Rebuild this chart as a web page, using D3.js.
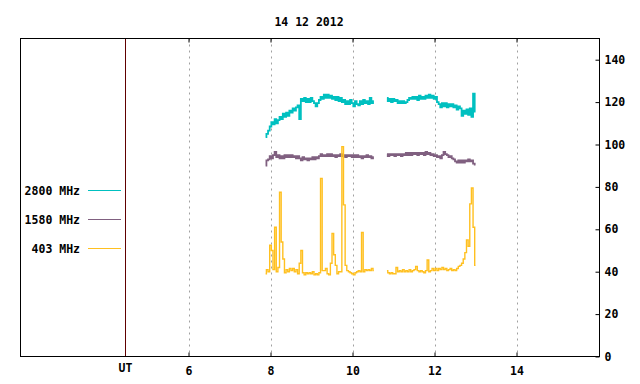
<!DOCTYPE html>
<html><head><meta charset="utf-8">
<script src="https://cdn.jsdelivr.net/npm/d3@7"></script>
<style>
body{margin:0;background:#fff;}
text{font-family:"DejaVu Sans Mono","Liberation Mono",monospace;font-weight:bold;font-size:11.5px;fill:#000;}
</style></head>
<body>
<svg id="chart" width="640" height="384"></svg>
<script>
const title = "14 12 2012";
const xTicks = [6, 8, 10, 12, 14];
const yTicks = [0, 20, 40, 60, 80, 100, 120, 140];
const utTime = 4.46;
const seriesNames = ["2800 MHz", "1580 MHz", "403 MHz"];
const seriesColors = ["#00c0c0", "#806080", "#ffc020"];
const step = 0.04;
const seg1Start = 7.88;
const seg2Start = 10.84;

const s2800a = [103.5,105,106.5,108.5,110.5,109.5,112,110,111.5,113,112,114.5,113,115,113.5,116,115,117,116,117.5,118.5,112,121.5,120.5,122,120,121.5,120,122,120.5,119.5,118,119.5,121,122.5,121.5,123.5,122,123.5,122,123,121.5,122.5,121,122.5,120.5,122,120,121,119,120.5,119,121,119.5,118,120.5,119,118.5,120.5,119,121,119.5,120.5,119,122,119.5,120.5];
const s2800b = [122,120.5,121.5,120,121.5,120.5,121,119.5,120.5,119.5,120.5,119.5,120,121,122,121.5,122.5,121.5,122.5,121,123,121.5,122.5,121.5,123,122,123.5,122,123,121.5,122.5,120,119,117.5,119.5,118,119.5,117.5,119,118,119,117.5,118.5,116.5,118,117,113.5,116,114.5,116.5,114,117,113,124,115.5];

const s1580a = [90,92.5,93,94.5,93.5,95,96.5,94,95,93.5,94.5,93.5,95,94,95,94,95,94,94.5,93.5,94.5,93.5,92.5,94,93,93.5,92.5,93.5,93,94,93,94,93.5,94.5,95.5,94.5,95,94.5,95.5,94.5,95.5,94.5,95,94,95,94.5,95.5,94.5,95,94,95,94.5,95,94,95,94,95,94,94.5,93.5,94.5,94,95,94,94.5,93.5,94];
const s1580b = [95.5,94.5,95.5,95,95.5,94.5,95.5,95,95.5,94.5,95.5,95,96,95,96,95,96,95.5,96,95,96,95.5,96,95,96.5,95.5,96,95,95.5,94.5,95,94,94.5,93.5,95,96.5,95.5,95,94,94.5,93.5,93,92,91.5,92.5,91.5,92.5,91.5,92.5,92,93,92,92.5,91,90.5];

const s403a = [39,41,40,52.5,50,41,61,40,42,77.5,54,46,39.5,41,40,41.5,40.5,41.5,40,41,39,44,50,39.5,38.5,39.5,39,39.5,39,40,38.5,39,38.5,39.5,84,40.5,40.5,41.5,39,38.5,44,58,48,43,39,40,40,99,71.5,43,40.5,40,39.5,39,38.5,39.5,40,40.5,40,58.5,40,41,40.5,41,40.5,41.5,40.5];
const s403b = [40.5,39.5,39,39.5,39,39,42,40,40.5,40,41,40,40.5,40,41,40,40.5,41,42.5,40.5,40,40.5,40,39.5,40.5,45.5,40,40.5,41.5,40.5,41.5,40.5,41.5,41,42,41,41.5,40.5,41,41.5,40.5,41,40.5,41.5,42.5,43,44,46,49,55,52,72,79.5,61,43];

const svg = d3.select("#chart");
const L = 20.5, R = 599.5, T = 38.5, B = 356.5;
const x = d3.scaleLinear().domain([1.902, 16.024]).range([L, R]);
const y = d3.scaleLinear().domain([0, 150]).range([B, T]);

svg.append("text").attr("x", 309).attr("y", 26).attr("text-anchor", "middle").text(title);

// grid
svg.append("g").selectAll("line").data(xTicks).join("line")
  .attr("x1", d => Math.round(x(d)) + 0.5).attr("x2", d => Math.round(x(d)) + 0.5)
  .attr("y1", T).attr("y2", B)
  .attr("stroke", "#a0a0a0").attr("stroke-dasharray", "2,4");

// UT line
svg.append("line").attr("x1", Math.round(x(utTime)) + 0.5).attr("x2", Math.round(x(utTime)) + 0.5)
  .attr("y1", T).attr("y2", B).attr("stroke", "#600000");

// frame
svg.append("rect").attr("x", L).attr("y", T).attr("width", R - L).attr("height", B - T)
  .attr("fill", "none").attr("stroke", "#000");

// bottom axis
const xa = svg.append("g").attr("transform", `translate(0,${B})`)
  .call(d3.axisBottom(x).tickValues(xTicks).tickSizeInner(-4).tickSizeOuter(0).tickPadding(10).tickFormat(d3.format("d")));
xa.select(".domain").remove();
xa.selectAll("text").attr("font-family", null).attr("font-size", null);
// top ticks
const xt = svg.append("g").attr("transform", `translate(0,${T})`)
  .call(d3.axisTop(x).tickValues(xTicks).tickSizeInner(-4).tickSizeOuter(0).tickFormat(""));
xt.select(".domain").remove();

svg.append("text").attr("x", Math.round(x(utTime)) + 0.5).attr("y", 372).attr("text-anchor", "middle").text("UT");

// right axis
const ya = svg.append("g").attr("transform", `translate(${R},0)`)
  .call(d3.axisRight(y).tickValues(yTicks).tickSizeInner(-4).tickSizeOuter(0).tickPadding(5).tickFormat(d3.format("d")));
ya.select(".domain").remove();
ya.selectAll("text").attr("font-family", null).attr("font-size", null);
ya.selectAll("line").attr("stroke", "#000");

// series
const seriesData = [
  [s2800a, s2800b],
  [s1580a, s1580b],
  [s403a, s403b]
];
const starts = [seg1Start, seg2Start];
const line = d3.line().x(d => x(d[0])).y(d => y(d[1])).curve(d3.curveStep);
seriesData.forEach((segs, k) => {
  segs.forEach((vals, s) => {
    const pts = vals.map((v, i) => [starts[s] + i * step, v]);
    svg.append("path").datum(pts).attr("d", line)
      .attr("fill", "none").attr("stroke", seriesColors[k]).attr("stroke-width", k === 2 ? 1.4 : 1.8);
  });
});

// legend
const legY = [190.5, 219.5, 248.5];
seriesNames.forEach((n, k) => {
  svg.append("text").attr("x", 80).attr("y", legY[k] + 4).attr("text-anchor", "end").text(n);
  svg.append("line").attr("x1", 88).attr("x2", 121).attr("y1", legY[k]).attr("y2", legY[k])
    .attr("stroke", seriesColors[k]);
});
</script>
</body></html>
